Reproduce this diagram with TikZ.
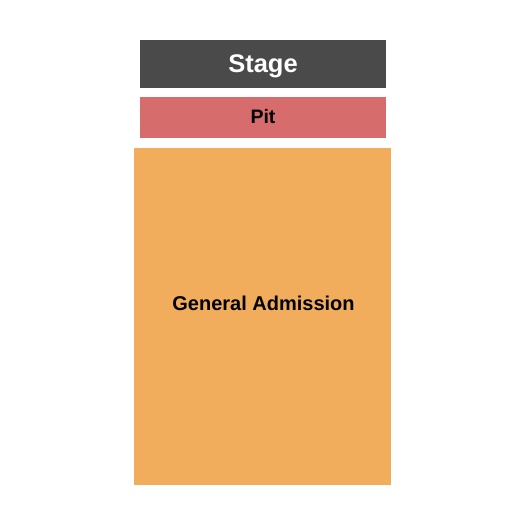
\documentclass[tikz,border=0pt]{standalone}
\usepackage{fontspec}
\setmainfont{Liberation Sans}
\definecolor{stagegray}{HTML}{4A4A4A}
\definecolor{pitred}{HTML}{D76C6C}
\definecolor{gaorange}{HTML}{F2AD5C}
\begin{document}
\begin{tikzpicture}[x=1pt, y=-1pt, font=\bfseries]
			\useasboundingbox (0, 0) rectangle (525, 525);
			\tikzset{area/.style={inner sep=0pt, outer sep=0pt}}
			\tikzset{areatext/.style={anchor=base, inner sep=0pt}}
			
			\node[area, fill=stagegray, minimum width=246pt, minimum height=48pt] (stage) at (263, 64) {};
			\node[area, fill=pitred, minimum width=246pt, minimum height=41pt] (pit) at (263, 117) {};
			\node[area, fill=gaorange, minimum width=257pt, minimum height=337pt] (ga) at (262.5, 316) {};
			
			\node[areatext, text=white, font=\bfseries\fontsize{25.5}{25.5}\selectfont] (stagelabel) at (263, 72.5) {Stage};
			\node[areatext, font=\bfseries\fontsize{19.5}{19.5}\selectfont] (pitlabel) at (263, 123) {Pit};
			\node[areatext, font=\bfseries\fontsize{20}{20}\selectfont] (galabel) at (263.5, 310) {General Admission};
		\end{tikzpicture}
\end{document}
